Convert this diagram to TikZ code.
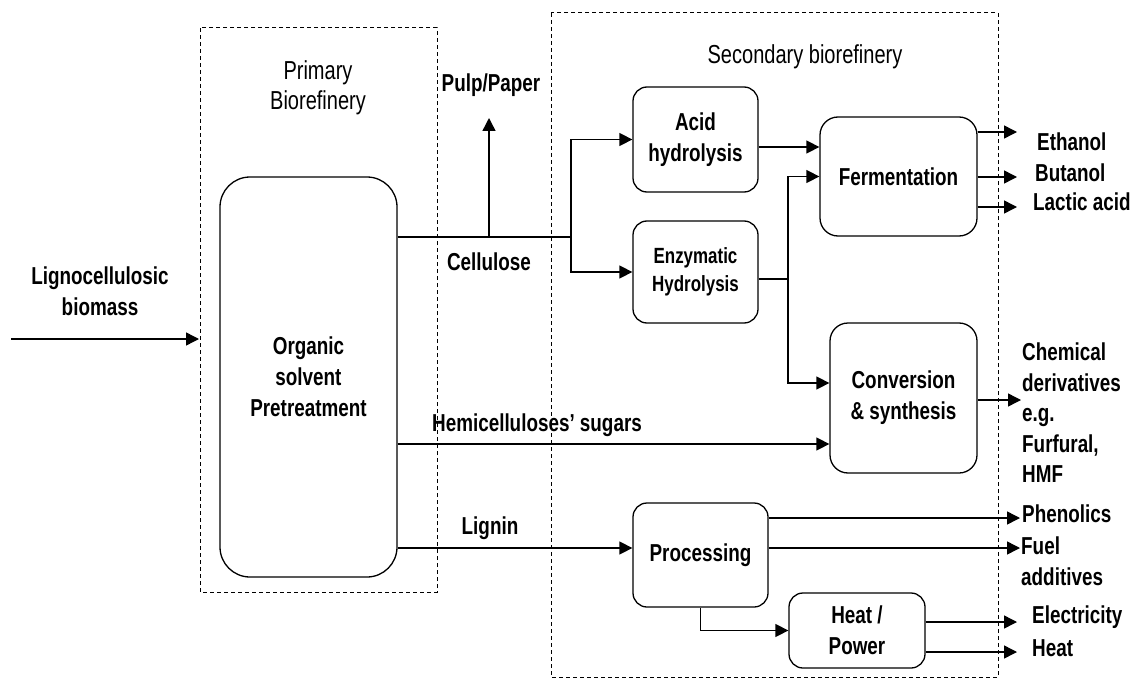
\documentclass[tikz,border=0pt]{standalone}
\usepackage{fontspec}
\setmainfont{Liberation Sans}[FakeStretch=0.77]
\usetikzlibrary{arrows.meta}

\tikzset{
  unit/.style={draw, line width=1.3pt, rounded corners=14pt, align=center,
    font=\fontsize{24.5}{31}\selectfont\bfseries, inner sep=2pt},
  tag/.style={font=\fontsize{24.5}{30.5}\selectfont\bfseries, inner sep=0pt, align=left},
  title/.style={font=\fontsize{26}{30}\selectfont, inner sep=0pt, align=center},
  zone/.style={draw, line width=1pt, dash pattern=on 4pt off 3pt},
  link/.style={line width=1.4pt},
  flow/.style={link, -{Triangle[length=13pt,width=13pt]}},
}

\begin{document}
\begin{tikzpicture}[x=1pt,y=-1pt]
\useasboundingbox (0,0) rectangle (1131,679);

% the two refinery zones
\draw[zone] (200,28) rectangle (437,592);
\draw[zone] (551,13) rectangle (998,677);
\node[title] (prim) at (318,88) {Primary\\Biorefinery};
\node[title] (sec) at (805,57) {Secondary biorefinery};

% units
\node[unit, rounded corners=30pt, minimum width=177pt, minimum height=400pt] (pre) at (308.5,377) {Organic\\solvent\\Pretreatment};
\node[unit, minimum width=125pt, minimum height=105pt] (acid) at (695.5,139.5) {Acid\\hydrolysis};
\node[unit, minimum width=125pt, minimum height=102pt, font=\fontsize{22}{28}\selectfont\bfseries] (enz) at (695.5,272) {Enzymatic\\Hydrolysis};
\node[unit, rounded corners=18pt, minimum width=157pt, minimum height=119pt] (ferm) at (898.5,176.5) {Fermentation};
\node[unit, rounded corners=18pt, minimum width=147pt, minimum height=150pt] (conv) at (903.5,398) {Conversion\\\& synthesis};
\node[unit, minimum width=135pt, minimum height=104pt] (proc) at (700.5,555) {Processing};
\node[unit, minimum width=136pt, minimum height=75pt] (heat) at (857,630.5) {Heat /\\Power};

% feedstock
\node[tag, align=center] (feed) at (100,291) {Lignocellulosic\\biomass};
\coordinate (src) at (11,339);
\coordinate (entry) at (199,339);
\draw[flow] (src) -- (entry);

% cellulose route
\coordinate (split) at (571,237);
\coordinate (fork) at (489,237);
\coordinate (pulptip) at (489,118);
\draw[link] (pre.east |- split) -- (split);
\draw[flow] (fork) -- (pulptip);
\node[tag] (pulp) at (491,85) {Pulp/Paper};
\node[tag] (cel) at (489,262) {Cellulose};
\draw[flow] (split) |- (acid.west);
\draw[flow] (split) |- (enz.west);
\coordinate (a2f) at (0,147);
\draw[flow] (acid.east |- a2f) -- (ferm.west |- a2f);
\coordinate (merge) at (788,279);
\coordinate (m2c) at (0,383);
\draw[link] (enz.east |- merge) -- (merge);
\draw[flow] (merge) |- (ferm.west);
\draw[flow] (merge) |- (conv.west |- m2c);

% hemicellulose route
\coordinate (hemi) at (0,444);
\draw[flow] (pre.east |- hemi) -- (conv.west |- hemi);
\node[tag] (hemilbl) at (537,425) {Hemicelluloses' sugars};

% lignin route
\coordinate (lig) at (0,548);
\draw[flow] (pre.east |- lig) -- (proc.west |- lig);
\node[tag] (liglbl) at (490,528) {Lignin};
\draw[flow] (proc.south) |- (heat.west);

% products
\foreach \n/\y in {eth/132,but/177,lac/207} \coordinate (\n) at (1017,\y);
\foreach \n in {eth,but,lac} \draw[flow] (ferm.east |- \n) -- (\n);
\node[tag, anchor=west] at (1037,142) {Ethanol};
\node[tag, anchor=west] at (1035,173) {Butanol};
\node[tag, anchor=west] at (1033,202) {Lactic acid};

\coordinate (chem) at (1021,400);
\draw[flow] (conv.east |- chem) -- (chem);
\node[tag, anchor=west, text width=110pt] at (1022,413) {Chemical\\derivatives\\e.g.\\Furfural,\\HMF};

\coordinate (phen) at (1020,518);
\coordinate (fuel) at (1020,548);
\draw[flow] (proc.east |- phen) -- (phen);
\draw[flow] (proc.east |- fuel) -- (fuel);
\node[tag, anchor=west] at (1022,514) {Phenolics};
\node[tag, anchor=west] at (1021,561) {Fuel\\additives};

\coordinate (elec) at (1017,622);
\coordinate (warm) at (1017,652);
\draw[flow] (heat.east |- elec) -- (elec);
\draw[flow] (heat.east |- warm) -- (warm);
\node[tag, anchor=west] at (1032,617) {Electricity};
\node[tag, anchor=west] at (1032,648) {Heat};
\end{tikzpicture}
\end{document}
